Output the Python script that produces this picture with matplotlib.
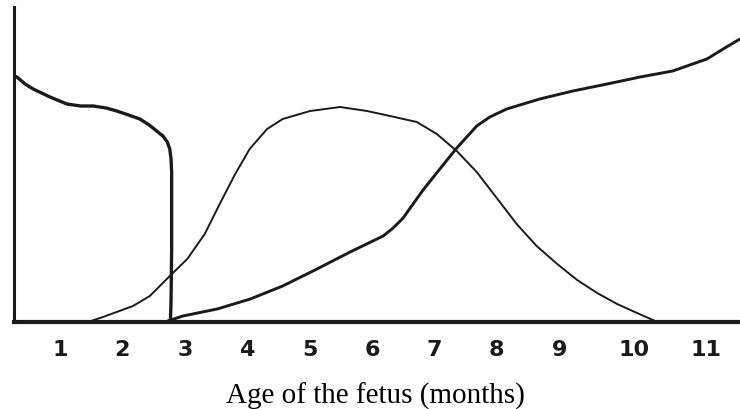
import matplotlib
matplotlib.use("Agg")
import matplotlib.pyplot as plt

# month positions of the printed tick labels
tick_pos = [1, 2, 3, 4, 5, 6, 7, 8, 9, 10.2, 11.35]
tick_labels = ["1", "2", "3", "4", "5", "6", "7", "8", "9", "10", "11"]

# thick curve, high at start, drops sharply before month 3
a_month = [0.26, 0.31, 0.44, 0.57, 0.84, 1.11, 1.33, 1.53, 1.74, 1.91, 2.10, 2.28,
           2.43, 2.55, 2.65, 2.72, 2.76, 2.78, 2.79, 2.79, 2.78, 2.77]
a_level = [246, 245, 238, 233, 225, 218, 216, 216, 214, 211, 207, 203,
           197, 191, 186, 180, 173, 163, 150, 73, 20, 0]

# thin bell-shaped curve
b_month = [1.45, 1.69, 2.17, 2.44, 2.76, 3.04, 3.32, 3.56, 3.80, 4.04,
           4.32, 4.57, 5.01, 5.49, 5.92, 6.29, 6.72, 7.04, 7.36, 7.68,
           8.05, 8.32, 8.64, 8.97, 9.29, 9.61, 9.93, 10.25, 10.54]
b_level = [0, 5, 16, 26, 46, 63, 88, 118, 147, 173,
           193, 203, 211, 215, 211, 206, 200, 188, 171, 150,
           120, 98, 76, 58, 42, 29, 18, 9, 1]

# thick sigmoid curve rising to the right edge
c_month = [2.68, 2.97, 3.52, 4.05, 4.57, 5.12, 5.65, 6.18, 6.34, 6.50,
           6.82, 7.14, 7.36, 7.68, 7.89, 8.16, 8.69, 9.22, 9.77, 10.30,
           10.82, 11.37, 11.63, 11.90]
c_level = [0, 6, 13, 23, 36, 53, 70, 86, 94, 104,
           132, 157, 174, 196, 205, 213, 223, 231, 238, 245,
           251, 263, 273, 283]

ink = "#1a1a1a"

fig = plt.figure(figsize=(7.4, 4.1), dpi=100)
ax = fig.add_axes([14 / 740, 87 / 410, 726 / 740, 315 / 410])

ax.plot(a_month, a_level, color=ink, lw=2.4, solid_joinstyle="round", solid_capstyle="round")
ax.plot(b_month, b_level, color=ink, lw=1.4, solid_joinstyle="round", solid_capstyle="round")
ax.plot(c_month, c_level, color=ink, lw=2.1, solid_joinstyle="round", solid_capstyle="round",
        clip_on=False)

ax.set_xlim(0.263, 11.9)
ax.set_ylim(0, 315)

for side in ["top", "right"]:
    ax.spines[side].set_visible(False)
ax.spines["left"].set_linewidth(2.2)
ax.spines["bottom"].set_linewidth(3.0)
ax.spines["left"].set_color(ink)
ax.spines["bottom"].set_color(ink)

ax.set_yticks([])
ax.set_xticks(tick_pos)
ax.set_xticklabels(tick_labels, fontsize=16, fontweight="bold", color=ink, family="DejaVu Sans")
ax.tick_params(axis="x", length=0, pad=12)

fig.text(375 / 740, 6 / 410, "Age of the fetus (months)", ha="center", va="baseline",
         fontsize=21, family="Liberation Serif", color="black")

fig.savefig("out.png", dpi=100, facecolor="white")
